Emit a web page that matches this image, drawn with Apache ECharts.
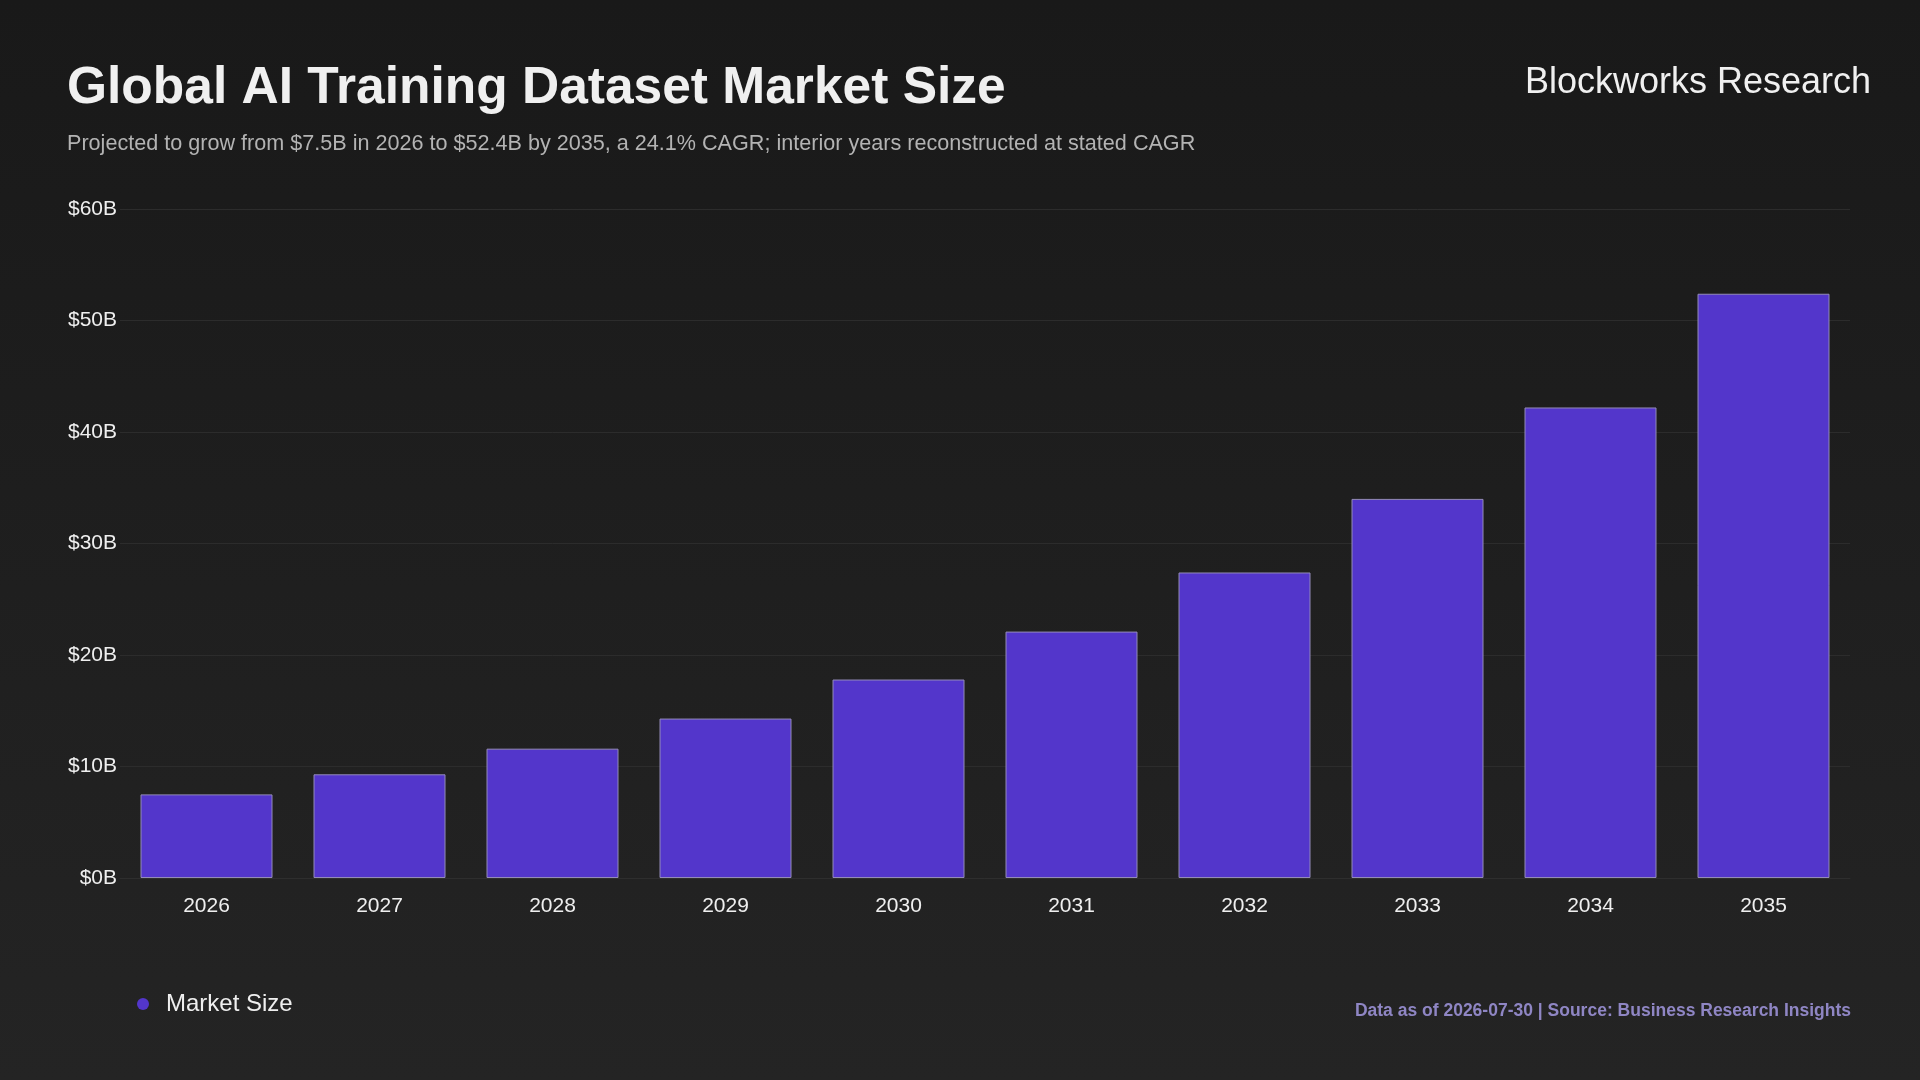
<!DOCTYPE html>
<html>
<head>
<meta charset="utf-8">
<script src="https://cdn.jsdelivr.net/npm/echarts@6/dist/echarts.min.js"></script>
<style>
html,body{margin:0;padding:0;width:1920px;height:1080px;overflow:hidden;background:#1e1e1e;}
#chart{width:1920px;height:1080px;}
</style>
</head>
<body>
<div id="chart"></div>
<script>
const categories = ['2026','2027','2028','2029','2030','2031','2032','2033','2034','2035'];
const marketSize = [7.5, 9.3, 11.6, 14.3, 17.8, 22.1, 27.4, 34.0, 42.2, 52.4];
const yTicks = [0, 10, 20, 30, 40, 50, 60];
const seriesName = 'Market Size';
const titleText = 'Global AI Training Dataset Market Size';
const subtitleText = 'Projected to grow from $7.5B in 2026 to $52.4B by 2035, a 24.1% CAGR; interior years reconstructed at stated CAGR';
const brandText = 'Blockworks Research';
const footerText = 'Data as of 2026-07-30 | Source: Business Research Insights';

const FONT = '"Liberation Sans", Arial, Helvetica, sans-serif';
const chart = echarts.init(document.getElementById('chart'), null, {renderer: 'canvas'});

chart.setOption({
  backgroundColor: {
    type: 'linear', x: 0, y: 0, x2: 0, y2: 1,
    colorStops: [{offset: 0, color: '#191919'}, {offset: 1, color: '#242424'}]
  },
  textStyle: {fontFamily: FONT},
  animation: false,
  grid: {left: 120, right: 70, top: 209, bottom: 202, containLabel: false},
  xAxis: {
    type: 'category',
    data: categories,
    axisTick: {show: false},
    axisLine: {show: true, lineStyle: {color: '#2e2e2e', width: 1}},
    axisLabel: {color: '#efefef', fontSize: 21, fontFamily: FONT, margin: 18, lineHeight: 21}
  },
  yAxis: {
    type: 'value',
    min: yTicks[0],
    max: yTicks[yTicks.length - 1],
    interval: yTicks[1] - yTicks[0],
    axisLine: {show: false},
    axisTick: {show: false},
    axisLabel: {color: '#efefef', fontSize: 21, fontFamily: FONT, margin: 3,
      formatter: v => '$' + v + 'B'},
    splitLine: {show: true, lineStyle: {color: '#2c2c2c', width: 1}}
  },
  legend: {
    show: true,
    left: 132,
    top: 987,
    icon: 'circle',
    itemWidth: 36,
    itemHeight: 12,
    itemStyle: {borderWidth: 0},
    textStyle: {color: '#efefef', fontSize: 24, fontFamily: FONT},
    data: [seriesName]
  },
  series: [{
    name: seriesName,
    type: 'bar',
    data: marketSize,
    barWidth: 132,
    itemStyle: {color: '#5336cb', borderColor: '#938bb8', borderWidth: 1}
  }],
  graphic: [
    {type: 'text', left: 67, top: 63,
      style: {text: titleText, fill: '#f0f0f0', font: 'bold 51.5px ' + FONT}},
    {type: 'text', left: 67, top: 133,
      style: {text: subtitleText, fill: '#b3b3b3', font: '21.6px ' + FONT}},
    {type: 'text', right: 49, top: 65,
      style: {text: brandText, fill: '#f0f0f0', font: '36px ' + FONT}},
    {type: 'text', right: 69, top: 1002,
      style: {text: footerText, fill: '#8f86c4', font: 'bold 17.5px ' + FONT}}
  ]
});
</script>
</body>
</html>
